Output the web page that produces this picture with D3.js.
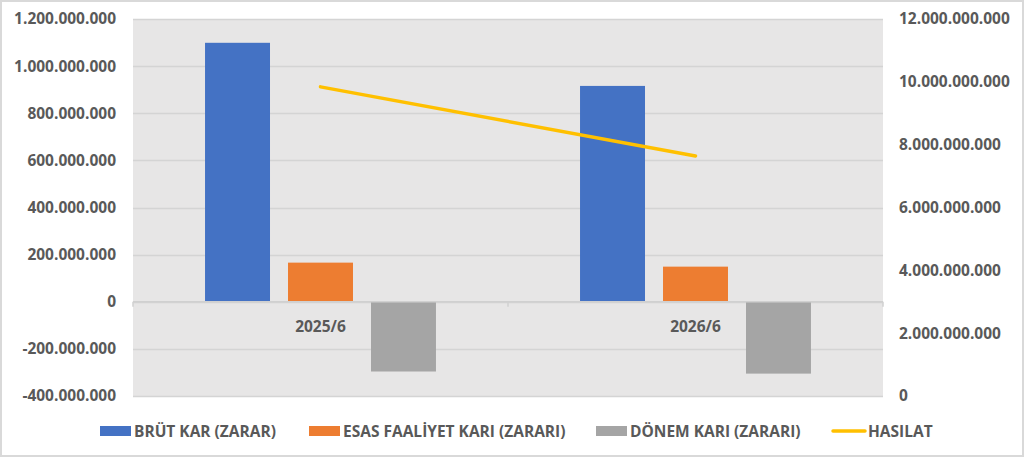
<!DOCTYPE html>
<html>
<head>
<meta charset="utf-8">
<script src="https://cdn.jsdelivr.net/npm/d3@7"></script>
<style>
  body { margin: 0; background: #fff; }
  svg { display: block; }
  .axis text { font-family: "Open Sans", sans-serif; font-weight: bold; font-size: 15.5px; fill: #595959; }
  .legend text { font-family: "Open Sans", sans-serif; font-weight: bold; font-size: 15.5px; fill: #595959; }
</style>
</head>
<body>
<div id="chart"></div>
<script>
// data
var categories = ["2025/6", "2026/6"];
var brutKar = [1099000000, 916000000];
var esasFaaliyet = [166000000, 149000000];
var donemKari = [-296000000, -305000000];
var hasilat = [9840000000, 7640000000];

var series = [
  {key: "BRÜT KAR (ZARAR)", values: brutKar, color: "#4472C4"},
  {key: "ESAS FAALİYET KARI (ZARARI)", values: esasFaaliyet, color: "#ED7D31"},
  {key: "DÖNEM KARI (ZARARI)", values: donemKari, color: "#A5A5A5"}
];

var leftTicks = [-400000000, -200000000, 0, 200000000, 400000000, 600000000, 800000000, 1000000000, 1200000000];
var rightTicks = [0, 2000000000, 4000000000, 6000000000, 8000000000, 10000000000, 12000000000];

var W = 1024, H = 457;
var margin = {top: 19, right: 141, bottom: 61, left: 133};
var width = W - margin.left - margin.right,
    height = H - margin.top - margin.bottom;

// number format with dots, like 1.200.000.000
var fmt = function(d) { return d3.format(",")(d).replace(/,/g, ".").replace("−", "-"); };

var svg = d3.select("#chart")
  .append("svg")
  .attr("width", W)
  .attr("height", H);

// outer border
svg.append("rect")
  .attr("x", 1).attr("y", 1)
  .attr("width", W - 2).attr("height", H - 2)
  .attr("fill", "#fff")
  .attr("stroke", "#d9d9d9")
  .attr("stroke-width", 2);

var g = svg.append("g")
  .attr("transform", "translate(" + margin.left + "," + margin.top + ")");

// plot background
g.append("rect")
  .attr("width", width)
  .attr("height", height)
  .attr("fill", "#E7E6E6");

var x = d3.scaleBand()
  .domain(categories)
  .range([0, width]);

var xSub = d3.scaleBand()
  .domain(series.map(function(s) { return s.key; }))
  .range([0, x.bandwidth()])
  .paddingInner(0.217)
  .paddingOuter(0.868);

var y = d3.scaleLinear()
  .domain([-400000000, 1200000000])
  .range([height, 0]);

var y2 = d3.scaleLinear()
  .domain([0, 12000000000])
  .range([height, 0]);

// gridlines
g.append("g")
  .selectAll("line")
  .data(leftTicks)
  .enter().append("line")
  .attr("x1", 0).attr("x2", width)
  .attr("y1", function(d) { return Math.round(y(d)) + 0.5; })
  .attr("y2", function(d) { return Math.round(y(d)) + 0.5; })
  .attr("stroke", "#D4D4D4")
  .attr("stroke-width", 1.5);

// left axis
var yAxis = g.append("g")
  .attr("class", "axis")
  .call(d3.axisLeft(y).tickValues(leftTicks).tickFormat(fmt).tickSize(0).tickPadding(17));
yAxis.select(".domain").remove();

// right axis
var yAxis2 = g.append("g")
  .attr("class", "axis")
  .attr("transform", "translate(" + width + ",0)")
  .call(d3.axisRight(y2).tickValues(rightTicks).tickFormat(fmt).tickSize(0).tickPadding(16));
yAxis2.select(".domain").remove();

// bars
g.append("g")
  .selectAll("g")
  .data(categories)
  .enter().append("g")
  .attr("transform", function(d) { return "translate(" + x(d) + ",0)"; })
  .selectAll("rect")
  .data(function(d, i) { return series.map(function(s) { return {key: s.key, value: s.values[i], color: s.color}; }); })
  .enter().append("rect")
  .attr("x", function(d) { return xSub(d.key); })
  .attr("y", function(d) { return y(Math.max(0, d.value)); })
  .attr("width", xSub.bandwidth())
  .attr("height", function(d) { return Math.abs(y(d.value) - y(0)); })
  .attr("fill", function(d) { return d.color; });

// zero axis line with tick marks
var xAxis = g.append("g")
  .attr("transform", "translate(0," + y(0) + ")");
xAxis.append("line")
  .attr("x1", 0).attr("x2", width)
  .attr("stroke", "#D0D0D0").attr("stroke-width", 1.5);
xAxis.selectAll(".tk")
  .data([0, 1, 2])
  .enter().append("line")
  .attr("class", "tk")
  .attr("x1", function(d) { return d * x.bandwidth(); })
  .attr("x2", function(d) { return d * x.bandwidth(); })
  .attr("y1", 0).attr("y2", 5)
  .attr("stroke", "#D0D0D0").attr("stroke-width", 1.5);

// category labels
g.append("g")
  .attr("class", "axis")
  .selectAll("text")
  .data(categories)
  .enter().append("text")
  .attr("x", function(d) { return x(d) + x.bandwidth() / 2; })
  .attr("y", y(0) + 30)
  .attr("text-anchor", "middle")
  .text(function(d) { return d; });

// hasilat line
var line = d3.line()
  .x(function(d, i) { return x(categories[i]) + x.bandwidth() / 2; })
  .y(function(d) { return y2(d); });

g.append("path")
  .datum(hasilat)
  .attr("d", line)
  .attr("fill", "none")
  .attr("stroke", "#FFC000")
  .attr("stroke-width", 3.5)
  .attr("stroke-linecap", "round");

// legend
var legendItems = [
  {key: series[0].key, color: series[0].color, type: "rect", x: 100},
  {key: series[1].key, color: series[1].color, type: "rect", x: 309},
  {key: series[2].key, color: series[2].color, type: "rect", x: 596},
  {key: "HASILAT", color: "#FFC000", type: "line", x: 832}
];

var legend = svg.append("g").attr("class", "legend");
var li = legend.selectAll("g")
  .data(legendItems)
  .enter().append("g")
  .attr("transform", function(d) { return "translate(" + d.x + ",431)"; });

li.filter(function(d) { return d.type === "rect"; })
  .append("rect")
  .attr("x", 0).attr("y", -5)
  .attr("width", 31).attr("height", 10)
  .attr("fill", function(d) { return d.color; });

li.filter(function(d) { return d.type === "line"; })
  .append("line")
  .attr("x1", 1).attr("x2", 33)
  .attr("stroke", function(d) { return d.color; })
  .attr("stroke-width", 3.5)
  .attr("stroke-linecap", "round");

li.append("text")
  .attr("x", function(d) { return d.type === "line" ? 36 : 34; })
  .attr("y", 0)
  .attr("dy", "0.36em")
  .text(function(d) { return d.key; });
</script>
</body>
</html>
